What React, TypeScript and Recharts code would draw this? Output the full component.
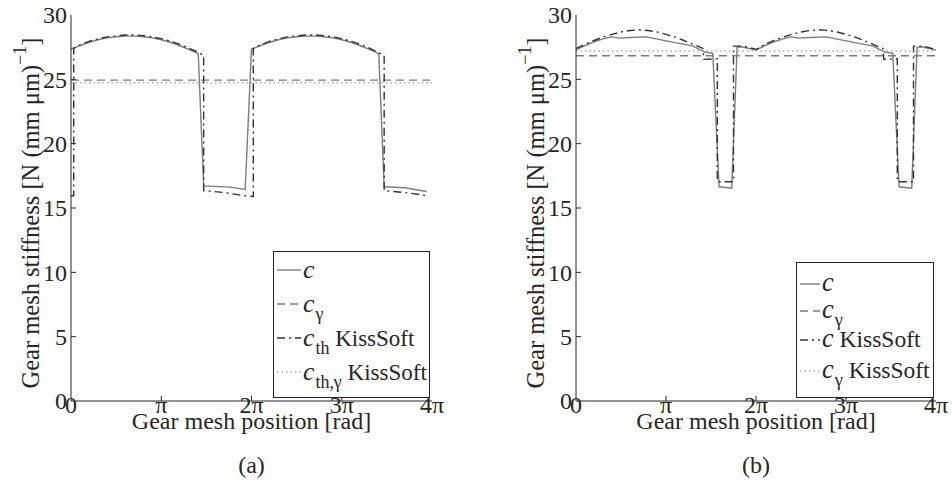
import React from "react";
import { LineChart, Line, XAxis, YAxis, Legend, Label } from "recharts";

const PI = Math.PI;
const FONT = "Liberation Serif";
const INK = "#262626";

// positions are written in multiples of π
const xTickPos = [0, 1, 2, 3, 4];
const xTickText = ["0", "π", "2π", "3π", "4π"];
const yTicks = [0, 5, 10, 15, 20, 25, 30];

// (a) computed mesh stiffness c
const aMeshPos = [0, 0.1, 0.2, 0.3, 0.4, 0.5, 0.6, 0.7, 0.8, 0.9, 1.0, 1.1, 1.2, 1.3, 1.41, 1.47, 1.76, 1.93,
  2.0, 2.1, 2.2, 2.3, 2.4, 2.5, 2.6, 2.7, 2.8, 2.9, 3.0, 3.1, 3.2, 3.3, 3.41, 3.47, 3.7, 3.94];
const aMeshVal = [27.35, 27.62, 27.88, 28.08, 28.22, 28.31, 28.36, 28.36, 28.31, 28.22, 28.08, 27.88, 27.63, 27.35, 27.0, 16.72, 16.62, 16.45,
  27.35, 27.62, 27.88, 28.08, 28.22, 28.31, 28.36, 28.36, 28.31, 28.22, 28.08, 27.88, 27.63, 27.35, 27.0, 16.65, 16.57, 16.28];
// (a) KissSoft c_th
const aKissPos = [0, 0.03, 0.03, 0.1, 0.2, 0.3, 0.4, 0.5, 0.6, 0.7, 0.8, 0.9, 1.0, 1.1, 1.2, 1.3, 1.4, 1.47, 1.47, 1.7, 1.92, 2.02,
  2.02, 2.1, 2.2, 2.3, 2.4, 2.5, 2.6, 2.7, 2.8, 2.9, 3.0, 3.1, 3.2, 3.3, 3.4, 3.47, 3.47, 3.7, 3.96];
const aKissVal = [15.95, 15.95, 27.4, 27.68, 27.95, 28.15, 28.3, 28.38, 28.44, 28.45, 28.4, 28.3, 28.16, 27.97, 27.73, 27.45, 27.12, 26.85, 16.35, 16.2, 15.95, 15.9,
  27.4, 27.68, 27.95, 28.15, 28.3, 28.38, 28.44, 28.45, 28.4, 28.3, 28.16, 27.97, 27.73, 27.45, 27.12, 26.85, 16.35, 16.2, 15.95];
const aMeanPos = [0, 4];
const aMeanVal = [24.94, 24.94];
const aKissMeanPos = [0, 4];
const aKissMeanVal = [24.73, 24.73];

// (b) computed mesh stiffness c
const bMeshPos = [0, 0.1, 0.2, 0.3, 0.39, 0.48, 0.6, 0.78, 0.96, 1.1, 1.19, 1.3, 1.43, 1.52, 1.59, 1.73, 1.79, 1.84,
  2.0, 2.1, 2.2, 2.3, 2.39, 2.48, 2.6, 2.78, 2.96, 3.1, 3.19, 3.3, 3.43, 3.52, 3.59, 3.73, 3.79, 3.84, 4.0];
const bMeshVal = [27.3, 27.62, 27.92, 28.15, 28.3, 28.2, 28.25, 28.3, 28.05, 27.85, 27.74, 27.58, 27.12, 27.02, 16.65, 16.53, 27.48, 27.53,
  27.28, 27.62, 27.92, 28.15, 28.3, 28.2, 28.25, 28.3, 28.05, 27.85, 27.74, 27.58, 27.12, 27.02, 16.65, 16.53, 27.48, 27.53, 27.28];
// (b) KissSoft c
const bKissPos = [0, 0.1, 0.2, 0.3, 0.4, 0.5, 0.6, 0.7, 0.8, 0.9, 1.0, 1.1, 1.2, 1.3, 1.41, 1.42, 1.57, 1.57, 1.75, 1.75, 1.86,
  2.0, 2.1, 2.2, 2.3, 2.4, 2.5, 2.6, 2.7, 2.8, 2.9, 3.0, 3.1, 3.2, 3.3, 3.41, 3.42, 3.57, 3.57, 3.75, 3.75, 3.86, 4.0];
const bKissVal = [27.4, 27.72, 28.02, 28.28, 28.5, 28.68, 28.8, 28.85, 28.8, 28.68, 28.5, 28.28, 28.02, 27.72, 27.4, 26.55, 26.6, 17.04, 17.04, 27.58, 27.58,
  27.33, 27.72, 28.02, 28.28, 28.5, 28.68, 28.8, 28.85, 28.8, 28.68, 28.5, 28.28, 28.02, 27.72, 27.4, 26.55, 26.6, 17.04, 17.04, 27.58, 27.58, 27.33];
const bMeanPos = [0, 4];
const bMeanVal = [26.83, 26.83];
const bKissMeanPos = [0, 4];
const bKissMeanVal = [27.2, 27.2];

type Pt = { x: number; y: number };
const toPoints = (pos: number[], val: number[]): Pt[] => pos.map((p, i) => ({ x: p * PI, y: val[i] }));

type Style = { stroke: string; dash?: string };
const SOLID: Style = { stroke: "#7d7d7d" };
const DASHED: Style = { stroke: "#7d7d7d", dash: "8 5" };
const DASHDOT: Style = { stroke: "#333333", dash: "8 4 2 4" };
const DOTTED: Style = { stroke: "#b0b0b0", dash: "1.5 3" };

type Series = { id: string; label: React.ReactNode; data: Pt[]; style: Style };

const Sub = ({ children }: { children: React.ReactNode }) => (
  <span style={{ fontSize: "0.78em", position: "relative", top: "0.42em", marginLeft: 1 }}>{children}</span>
);
const C = () => <i style={{ fontSize: "1.12em" }}>c</i>;

const seriesA: Series[] = [
  { id: "c", label: <C />, data: toPoints(aMeshPos, aMeshVal), style: SOLID },
  { id: "cg", label: <><C /><Sub>γ</Sub></>, data: toPoints(aMeanPos, aMeanVal), style: DASHED },
  { id: "cth", label: <><C /><Sub>th</Sub> KissSoft</>, data: toPoints(aKissPos, aKissVal), style: DASHDOT },
  { id: "cthg", label: <><C /><Sub>th,γ</Sub> KissSoft</>, data: toPoints(aKissMeanPos, aKissMeanVal), style: DOTTED },
];

const seriesB: Series[] = [
  { id: "c", label: <C />, data: toPoints(bMeshPos, bMeshVal), style: SOLID },
  { id: "cg", label: <><C /><Sub>γ</Sub></>, data: toPoints(bMeanPos, bMeanVal), style: DASHED },
  { id: "ck", label: <><C /> KissSoft</>, data: toPoints(bKissPos, bKissVal), style: DASHDOT },
  { id: "cgk", label: <><C /><Sub>γ</Sub> KissSoft</>, data: toPoints(bKissMeanPos, bKissMeanVal), style: DOTTED },
];

const TICK = 5;
const TICK_FONT = 24;

// inward tick marks, MATLAB style
function BottomTick(props: any) {
  const { x, y, payload, index } = props;
  const axisY = y - 2;
  return (
    <g>
      {index > 0 && index < 4 && <line x1={x} x2={x} y1={axisY} y2={axisY - TICK} stroke={INK} />}
      <text x={x} y={axisY + 12} textAnchor="middle" fontFamily={FONT} fontSize={TICK_FONT} fill={INK}>
        {xTickText[xTickPos.indexOf(Math.round(payload.value / PI))]}
      </text>
    </g>
  );
}

function TopTick(props: any) {
  const { x, y, index } = props;
  if (index === 0 || index === 4) return <g />;
  return <line x1={x} x2={x} y1={y} y2={y + TICK} stroke={INK} />;
}

function LeftTick(props: any) {
  const { x, y, payload, index } = props;
  const axisX = x + 2;
  return (
    <g>
      {index > 0 && index < yTicks.length - 1 && <line x1={axisX} x2={axisX + TICK} y1={y} y2={y} stroke={INK} />}
      <text x={axisX - 4} y={y} dy="0.35em" textAnchor="end" fontFamily={FONT} fontSize={TICK_FONT} fill={INK}>
        {payload.value}
      </text>
    </g>
  );
}

function RightTick(props: any) {
  const { x, y, index } = props;
  if (index === 0 || index === yTicks.length - 1) return <g />;
  return <line x1={x} x2={x - TICK} y1={y} y2={y} stroke={INK} />;
}

type LegendCfg = { left: number; top: number; width: number; height: number; font: number; rows: number[]; padTop: number; sample: number };

function LegendBox({ series, cfg }: { series: Series[]; cfg: LegendCfg }) {
  return (
    <div
      style={{
        width: "100%",
        height: "100%",
        boxSizing: "border-box",
        border: `1px solid ${INK}`,
        background: "#fff",
        paddingTop: cfg.padTop,
        fontFamily: FONT,
        fontSize: cfg.font,
        color: INK,
      }}
    >
      {series.map((s, i) => (
        <div key={s.id} style={{ height: cfg.rows[i], display: "flex", alignItems: "center", whiteSpace: "nowrap" }}>
          <svg width={cfg.sample + 2} height={6} style={{ marginLeft: 3, flex: "none" }}>
            <line x1={0} x2={cfg.sample} y1={3} y2={3} stroke={s.style.stroke} strokeWidth={1.4} strokeDasharray={s.style.dash} />
          </svg>
          <span style={{ lineHeight: 1 }}>{s.label}</span>
        </div>
      ))}
    </div>
  );
}

type PanelProps = {
  left: number;
  plotLeft: number;
  plotRight: number;
  series: Series[];
  caption: string;
  legend: LegendCfg;
};

const W = 476;
const H = 492;

function Panel({ left, plotLeft, plotRight, series, caption, legend }: PanelProps) {
  return (
    <div style={{ position: "absolute", left, top: 0, width: W, height: H }}>
      <LineChart width={W} height={H} margin={{ top: 15, right: W - plotRight, bottom: 0, left: 0 }}>
        <XAxis
          dataKey="x"
          type="number"
          domain={[0, 4 * PI]}
          ticks={xTickPos.map((p) => p * PI)}
          allowDataOverflow
          height={H - 401}
          tickSize={0}
          tickMargin={2}
          tickLine={false}
          axisLine={{ stroke: INK }}
          tick={<BottomTick />}
          interval={0}
        >
          <Label
            content={(p: any) => {
              const vb = p.viewBox;
              const cx = vb.x + vb.width / 2;
              return (
                <g fontFamily={FONT} fill={INK} fontSize={24}>
                  <text x={cx} y={vb.y + 28} textAnchor="middle">Gear mesh position [rad]</text>
                  <text x={cx} y={vb.y + 72} textAnchor="middle">{caption}</text>
                </g>
              );
            }}
          />
        </XAxis>
        <XAxis
          xAxisId="top"
          orientation="top"
          dataKey="x"
          type="number"
          domain={[0, 4 * PI]}
          ticks={xTickPos.map((p) => p * PI)}
          allowDataOverflow
          height={0}
          tickSize={0}
          tickMargin={0}
          tickLine={false}
          axisLine={{ stroke: INK }}
          tick={<TopTick />}
          interval={0}
        />
        <YAxis
          type="number"
          domain={[0, 30]}
          ticks={yTicks}
          allowDataOverflow
          width={plotLeft}
          tickSize={0}
          tickMargin={2}
          tickLine={false}
          axisLine={{ stroke: INK }}
          tick={<LeftTick />}
          interval={0}
        >
          <Label
            content={(p: any) => {
              const vb = p.viewBox;
              const cx = vb.x + vb.width - 41;
              const cy = vb.y + vb.height / 2 + 5;
              return (
                <text
                  x={cx}
                  y={cy}
                  transform={`rotate(-90, ${cx}, ${cy})`}
                  textAnchor="middle"
                  dominantBaseline="central"
                  fontFamily={FONT}
                  fontSize={24.5}
                  fill={INK}
                >
                  Gear mesh stiffness [N (mm μm)
                  <tspan dy={-10} fontSize={18}>−1</tspan>
                  <tspan dy={10}>]</tspan>
                </text>
              );
            }}
          />
        </YAxis>
        <YAxis
          yAxisId="right"
          orientation="right"
          type="number"
          domain={[0, 30]}
          ticks={yTicks}
          allowDataOverflow
          width={0}
          tickSize={0}
          tickMargin={0}
          tickLine={false}
          axisLine={{ stroke: INK }}
          tick={<RightTick />}
          interval={0}
        />
        {series.map((s) => (
          <Line
            key={s.id}
            data={s.data}
            dataKey="y"
            type="linear"
            stroke={s.style.stroke}
            strokeDasharray={s.style.dash}
            strokeWidth={1.4}
            dot={false}
            activeDot={false}
            isAnimationActive={false}
          />
        ))}
        <Legend
          layout="vertical"
          align="center"
          verticalAlign="middle"
          wrapperStyle={{ left: legend.left, top: legend.top, width: legend.width, height: legend.height }}
          content={() => <LegendBox series={series} cfg={legend} />}
        />
      </LineChart>
    </div>
  );
}

export default function App() {
  return (
    <div style={{ position: "absolute", left: 0, top: 0, width: 952, height: 492, background: "#fff" }}>
      <Panel
        left={0}
        plotLeft={71}
        plotRight={432}
        series={seriesA}
        caption="(a)"
        legend={{ left: 273, top: 251, width: 157, height: 147, font: 23, rows: [34, 34, 34, 34], padTop: 1, sample: 24 }}
      />
      <Panel
        left={476}
        plotLeft={100}
        plotRight={460}
        series={seriesB}
        caption="(b)"
        legend={{ left: 320, top: 262, width: 138, height: 136, font: 23.5, rows: [27, 27, 31, 31], padTop: 7, sample: 20 }}
      />
    </div>
  );
}
